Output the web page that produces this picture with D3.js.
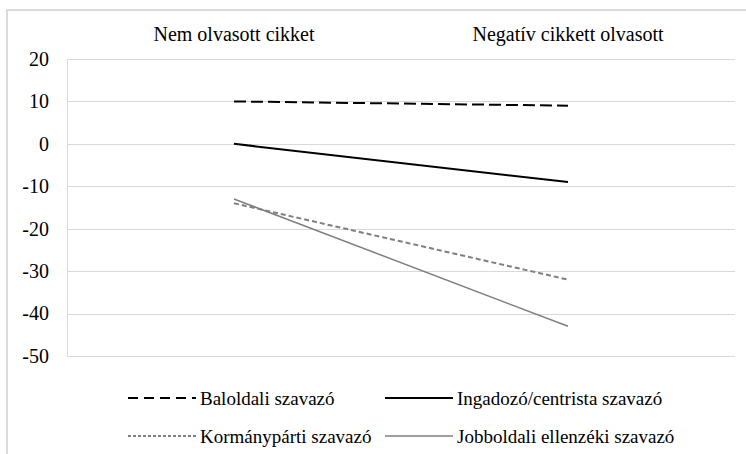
<!DOCTYPE html>
<html>
<head>
<meta charset="utf-8">
<script src="https://cdn.jsdelivr.net/npm/d3@7"></script>
<style>
  html, body { margin: 0; padding: 0; background: #fff; }
  svg { display: block; }
</style>
</head>
<body>
<svg id="chart" width="746" height="454"></svg>
<script>
const categories = ["Nem olvasott cikket", "Negatív cikkett olvasott"];
const seriesNames = ["Baloldali szavazó", "Ingadozó/centrista szavazó", "Kormánypárti szavazó", "Jobboldali ellenzéki szavazó"];
const baloldali = [10, 9];
const ingadozo = [0, -9];
const kormanyparti = [-14, -32];
const jobboldali = [-13, -43];
const yTicks = [20, 10, 0, -10, -20, -30, -40, -50];

const FONT = "Liberation Serif";
const FS = 20;
const LFS = 19;

const styles = [
  { color: "#000000", width: 2, dash: "12,5" },
  { color: "#000000", width: 2, dash: null },
  { color: "#7f7f7f", width: 2, dash: "5,3" },
  { color: "#7f7f7f", width: 1.5, dash: null }
];
const seriesValues = [baloldali, ingadozo, kormanyparti, jobboldali];

const svg = d3.select("#chart");
const plot = { left: 67, right: 735, top: 59, bottom: 356 };

// outer border
svg.append("rect").attr("x", 7).attr("y", 10).attr("width", 760).attr("height", 480)
  .attr("fill", "none").attr("stroke", "#d0d0d0").attr("stroke-width", 1.5);

const x = d3.scaleBand().domain(categories).range([plot.left, plot.right]).paddingInner(0).paddingOuter(0);
const y = d3.scaleLinear().domain([-50, 20]).range([plot.bottom, plot.top]);

// gridlines
svg.append("g").selectAll("line").data(yTicks).join("line")
  .attr("x1", plot.left).attr("x2", plot.right)
  .attr("y1", d => Math.round(y(d)) + 0.5).attr("y2", d => Math.round(y(d)) + 0.5)
  .attr("stroke", "#d9d9d9").attr("stroke-width", 1);

// vertical axis line
svg.append("line").attr("x1", plot.left + 0.5).attr("x2", plot.left + 0.5)
  .attr("y1", y(20)).attr("y2", y(-50) + 1)
  .attr("stroke", "#d9d9d9").attr("stroke-width", 1);

// y tick labels
const yAxis = d3.axisLeft(y).tickValues(yTicks).tickSize(0).tickPadding(18).tickFormat(d => String(d));
const gy = svg.append("g").attr("transform", `translate(${plot.left},0)`).call(yAxis);
gy.select(".domain").remove();
gy.attr("font-family", FONT).attr("font-size", FS);
gy.selectAll("text").attr("fill", "#000").attr("font-family", FONT).attr("font-size", FS);

// category labels at top
const xAxis = d3.axisTop(x).tickSize(0).tickPadding(0);
const gx = svg.append("g").attr("transform", `translate(0,41)`).call(xAxis);
gx.select(".domain").remove();
gx.attr("font-family", FONT).attr("font-size", FS);
gx.selectAll("text").attr("fill", "#000").attr("dy", 0).attr("font-family", FONT).attr("font-size", FS);

// lines
const line = d3.line().x((d, i) => x(categories[i]) + x.bandwidth() / 2).y(d => y(d));
seriesValues.forEach((vals, i) => {
  svg.append("path").datum(vals).attr("d", line)
    .attr("fill", "none").attr("stroke", styles[i].color)
    .attr("stroke-width", styles[i].width)
    .attr("stroke-dasharray", styles[i].dash);
});

// legend
const legendPos = [
  { x: 128, y: 398 },
  { x: 385, y: 398 },
  { x: 128, y: 436 },
  { x: 385, y: 436 }
];
const legendDash = ["10,6", null, "3,2", null];
const legend = svg.append("g").attr("font-family", FONT).attr("font-size", LFS);
seriesNames.forEach((name, i) => {
  const p = legendPos[i];
  legend.append("line").attr("x1", p.x).attr("x2", p.x + 68).attr("y1", p.y).attr("y2", p.y)
    .attr("stroke", styles[i].color).attr("stroke-width", styles[i].width)
    .attr("stroke-dasharray", legendDash[i]);
  legend.append("text").attr("x", p.x + 72).attr("y", p.y).attr("dy", "0.35em")
    .attr("fill", "#000").attr("font-family", FONT).attr("font-size", LFS).text(name);
});
</script>
</body>
</html>
